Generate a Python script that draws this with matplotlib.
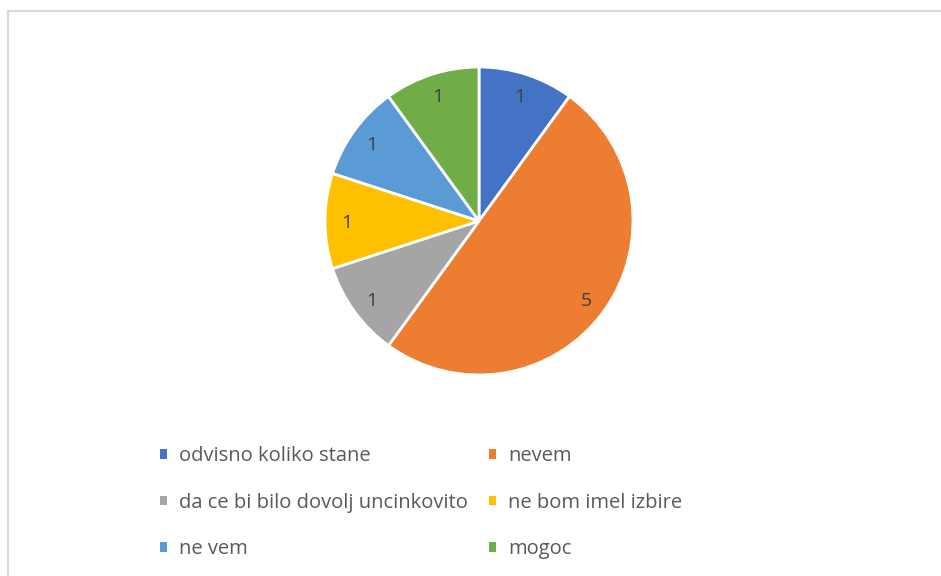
import matplotlib.pyplot as plt
from matplotlib.patches import Rectangle

plt.rcParams['font.family'] = ['Open Sans', 'DejaVu Sans']

# odgovori iz ankete
odgovori = ['odvisno koliko stane', 'nevem', 'da ce bi bilo dovolj uncinkovito',
            'ne bom imel izbire', 'ne vem', 'mogoc']
stevilo = [1, 5, 1, 1, 1, 1]
barve = ['#4472C4', '#ED7D31', '#A5A5A5', '#FFC000', '#5B9BD5', '#70AD47']

fig = plt.figure(figsize=(9.41, 5.76), dpi=100)

# svetlo siv okvir okoli grafa
okvir = Rectangle((8/941, -0.02), 1.05, 1 - 11/576 + 0.02, transform=fig.transFigure,
                  facecolor='none', edgecolor='#d9d9d9', linewidth=1.6)
fig.patches.append(okvir)

ax = fig.add_axes([(479-154)/941, 1-(221+154)/576, 308/941, 308/576])
wedges, texts = ax.pie(stevilo, colors=barve, startangle=90, counterclock=False,
                       labels=[str(v) for v in stevilo], labeldistance=0.86,
                       wedgeprops={'edgecolor': 'white', 'linewidth': 2},
                       textprops={'fontsize': 14, 'color': '#404040',
                                  'ha': 'center', 'va': 'center_baseline'})
ax.set_xlim(-1, 1)
ax.set_ylim(-1, 1)
ax.set_aspect('equal')

# excel legenda gre po vrsticah, matplotlib po stolpcih
vrstni_red = [0, 2, 4, 1, 3, 5]
leg = fig.legend([wedges[i] for i in vrstni_red], [odgovori[i] for i in vrstni_red],
                 ncol=2, loc='upper left', bbox_to_anchor=(160/941, 1-446/576),
                 frameon=False, fontsize=14.5, handlelength=0.35, handleheight=0.35,
                 handletextpad=0.6, columnspacing=1.05, labelspacing=1.32,
                 borderaxespad=0, borderpad=0)
for t in leg.get_texts():
    t.set_color('#595959')
for h in leg.legend_handles:
    h.set_edgecolor('none')

fig.savefig('out.png', dpi=100)
